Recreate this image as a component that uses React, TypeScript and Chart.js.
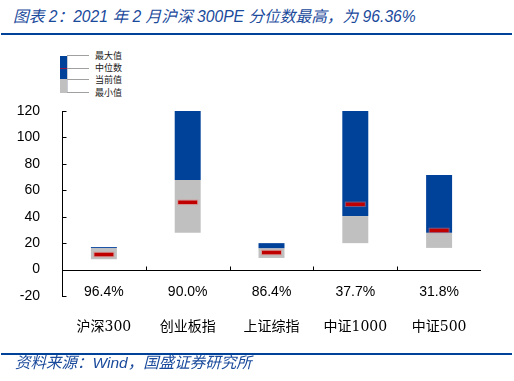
import React, { useEffect, useRef } from 'react';
import { Chart, registerables } from 'chart.js';

Chart.register(...registerables);

const categories = ['沪深300', '创业板指', '上证综指', '中证1000', '中证500'];
const minVals = [7.8, 27.8, 8.8, 20.0, 16.4];
const currentVals = [16.3, 67.8, 16.2, 40.5, 27.8];
const maxVals = [17.0, 120, 20.0, 120, 71.6];
const medianVals = [11.4, 50.9, 12.9, 49.4, 29.6];
const percentiles = ['96.4%', '90.0%', '86.4%', '37.7%', '31.8%'];
const yMin = -20;
const yMax = 120;
const yStep = 20;

const legendItems = ['最大值', '中位数', '当前值', '最小值'];

const TITLE = '图表 2：2021 年 2 月沪深 300PE 分位数最高，为 96.36%';
const SOURCE = '资料来源：Wind，国盛证券研究所';

const BLUE = '#00419A';
const GRAY = '#C0C0C0';
const RED = '#C00000';
const TEXT_BLUE = '#1A4A9C';

const decoPlugin = {
  id: 'decoPlugin',
  afterDraw(chart: any) {
    const { ctx, chartArea } = chart;
    const xs = chart.scales.x;
    const ys = chart.scales.y;
    ctx.save();
    ctx.strokeStyle = '#000';
    ctx.lineWidth = 1;
    const x0 = Math.round(chartArea.left) + 0.5;
    ys.ticks.forEach((t: any) => {
      const py = Math.round(ys.getPixelForValue(t.value)) + 0.5;
      ctx.beginPath();
      ctx.moveTo(x0, py);
      ctx.lineTo(x0 + 4, py);
      ctx.stroke();
    });
    const zy = Math.round(ys.getPixelForValue(0)) + 0.5;
    ctx.beginPath();
    ctx.moveTo(chartArea.left, zy);
    ctx.lineTo(chartArea.right, zy);
    ctx.stroke();
    for (let i = 1; i < categories.length; i++) {
      const px = Math.round((xs.getPixelForValue(i - 1) + xs.getPixelForValue(i)) / 2) + 0.5;
      ctx.beginPath();
      ctx.moveTo(px, zy);
      ctx.lineTo(px, zy - 4);
      ctx.stroke();
    }
    ctx.fillStyle = '#000';
    ctx.font = '14px "Liberation Sans", Arial, sans-serif';
    ctx.textAlign = 'center';
    ctx.textBaseline = 'middle';
    const py = ys.getPixelForValue(yMin) - 4;
    percentiles.forEach((p, i) => {
      ctx.fillText(p, xs.getPixelForValue(i), py);
    });
    ctx.restore();
  },
};

export default function App() {
  const ref = useRef<HTMLCanvasElement>(null);

  useEffect(() => {
    const gray = minVals.map((v, i) => [v, currentVals[i]]);
    const blue = currentVals.map((v, i) => [v, maxVals[i]]);
    const chart = new Chart(ref.current as HTMLCanvasElement, {
      type: 'bar',
      data: {
        labels: categories,
        datasets: [
          {
            type: 'line',
            label: '中位数',
            data: medianVals,
            showLine: false,
            pointStyle: 'line',
            pointRadius: 9.5,
            pointHoverRadius: 9.5,
            pointBorderWidth: 3.5,
            pointBorderColor: RED,
            borderColor: RED,
            order: 0,
          } as any,
          {
            type: 'line',
            label: 'glow',
            data: medianVals,
            showLine: false,
            pointStyle: 'line',
            pointRadius: 10.5,
            pointHoverRadius: 10.5,
            pointBorderWidth: 5.5,
            pointBorderColor: 'rgba(225,120,120,0.5)',
            borderColor: 'rgba(225,120,120,0.5)',
            order: 1,
          } as any,
          {
            label: '当前值-最大值',
            data: blue as any,
            backgroundColor: BLUE,
            grouped: false,
            order: 2,
            barPercentage: 0.31,
            categoryPercentage: 1,
          },
          {
            label: '最小值-当前值',
            data: gray as any,
            backgroundColor: GRAY,
            grouped: false,
            order: 3,
            barPercentage: 0.31,
            categoryPercentage: 1,
          },
        ],
      },
      options: {
        animation: false,
        responsive: false,
        maintainAspectRatio: false,
        layout: { padding: { left: 0, top: 111, right: 33, bottom: 35 } },
        plugins: { legend: { display: false }, tooltip: { enabled: false } },
        scales: {
          x: {
            grid: { display: false, drawTicks: false },
            border: { display: false },
            ticks: {
              color: '#000',
              padding: 23,
              font: { family: '"DejaVu Serif", "Noto Sans CJK SC", serif', size: 14 },
            },
            afterFit: (s: any) => {
              s.height = 50;
            },
          },
          y: {
            min: yMin,
            max: yMax,
            ticks: {
              stepSize: yStep,
              color: '#000',
              padding: 22,
              font: { family: '"Liberation Sans", Arial, sans-serif', size: 14 },
            },
            grid: { drawOnChartArea: false, drawTicks: false },
            border: { display: true, color: '#000', width: 1 },
            afterFit: (s: any) => {
              s.width = 62;
            },
          },
        },
      },
      plugins: [decoPlugin],
    });
    return () => chart.destroy();
  }, []);

  const legendLineYs = [55.5, 68, 79.5, 92.5];

  return (
    <div style={{ position: 'absolute', left: 0, top: 0, width: 514, height: 381, background: '#fff', overflow: 'hidden' }}>
      <div
        style={{
          position: 'absolute',
          left: 13,
          top: 7,
          fontFamily: '"Liberation Sans", "Noto Sans CJK SC", sans-serif',
          fontStyle: 'italic',
          fontSize: 15.7,
          lineHeight: '20px',
          color: TEXT_BLUE,
          whiteSpace: 'nowrap',
        }}
      >
        {TITLE}
      </div>
      <div style={{ position: 'absolute', left: 1, top: 33, width: 511, height: 2, background: BLUE }} />
      {/* legend */}
      <div style={{ position: 'absolute', left: 60, top: 55.5, width: 7, height: 23.5, background: BLUE }} />
      <div style={{ position: 'absolute', left: 60, top: 79, width: 7, height: 13.5, background: GRAY }} />
      <div style={{ position: 'absolute', left: 60, top: 67.5, width: 7, height: 1, background: '#8B1A4A' }} />
      <div style={{ position: 'absolute', left: 67, top: 55.5, width: 1, height: 37, background: '#C8CCD4' }} />
      {legendLineYs.map((y, i) => (
        <React.Fragment key={i}>
          <div style={{ position: 'absolute', left: 67, top: y - 0.5, width: 22, height: 1, background: '#A0A0A0' }} />
          <div
            style={{
              position: 'absolute',
              left: 95,
              top: y - 7,
              fontFamily: '"Noto Sans CJK SC", sans-serif',
              fontSize: 9,
              lineHeight: '14px',
              color: '#222',
              whiteSpace: 'nowrap',
            }}
          >
            {legendItems[i]}
          </div>
        </React.Fragment>
      ))}
      <canvas ref={ref} width={514} height={381} style={{ position: 'absolute', left: 0, top: 0, width: 514, height: 381 }} />
      <div style={{ position: 'absolute', left: 1, top: 353, width: 511, height: 2, background: BLUE }} />
      <div
        style={{
          position: 'absolute',
          left: 15,
          top: 354,
          fontFamily: '"Liberation Sans", "Noto Sans CJK SC", sans-serif',
          fontStyle: 'italic',
          fontSize: 15.5,
          lineHeight: '18px',
          color: TEXT_BLUE,
          whiteSpace: 'nowrap',
        }}
      >
        {SOURCE}
      </div>
    </div>
  );
}
